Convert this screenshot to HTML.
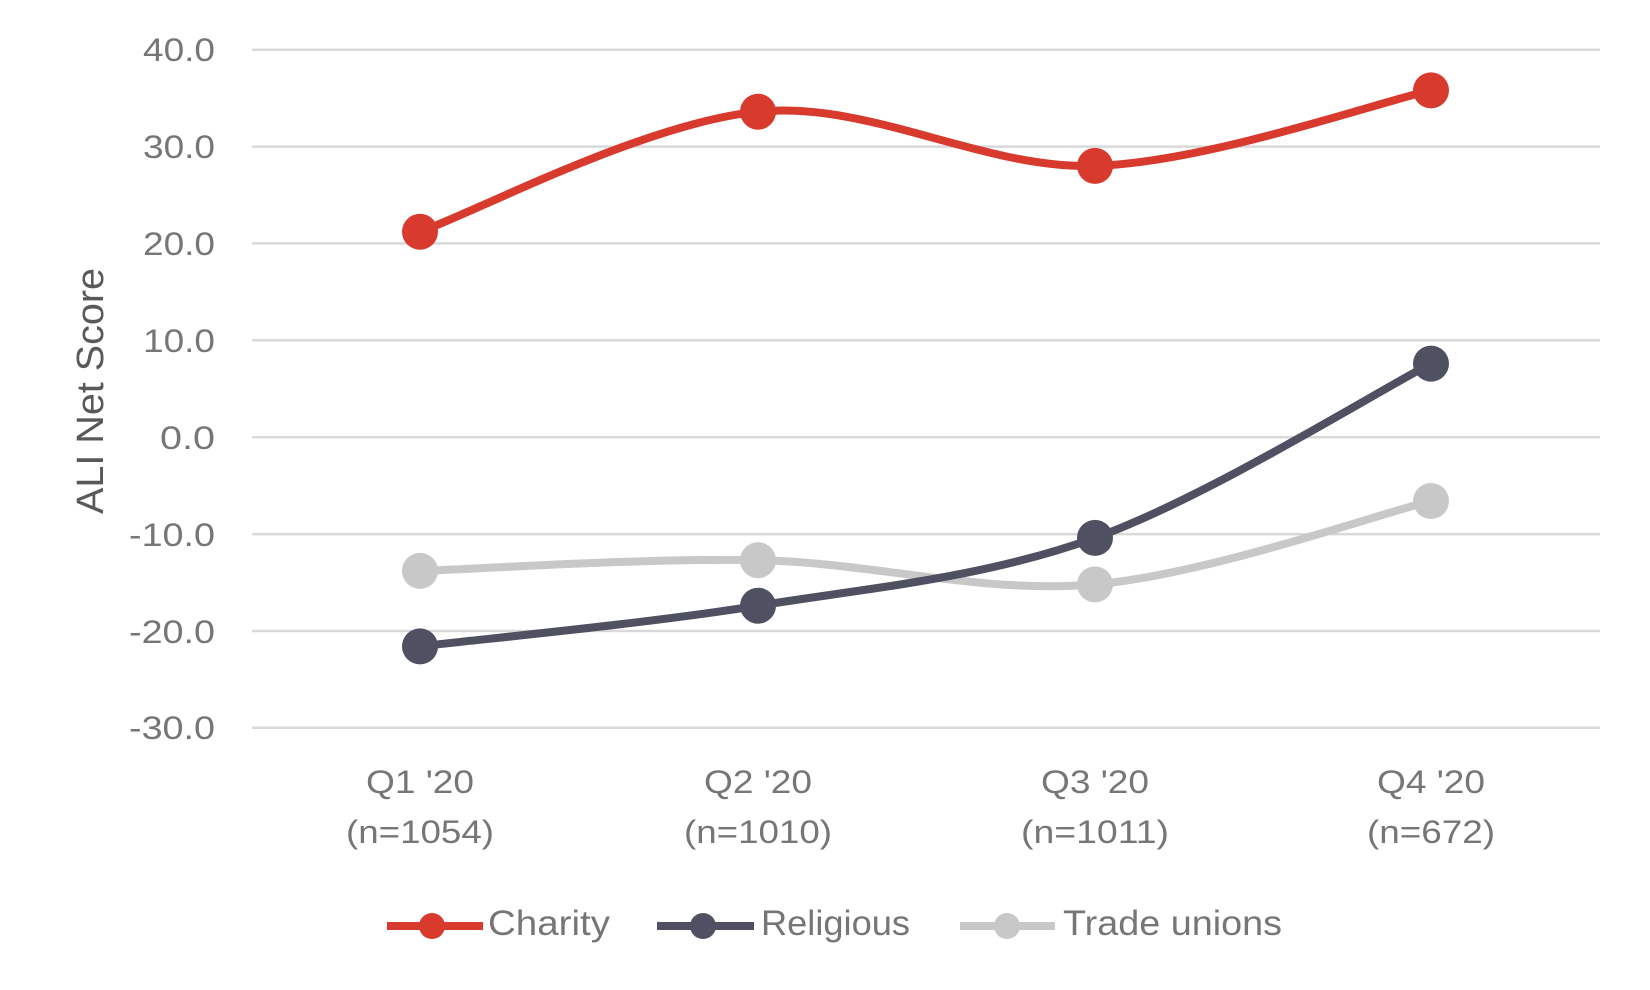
<!DOCTYPE html>
<html><head><meta charset="utf-8"><style>
html,body{margin:0;padding:0;background:#fff;}
svg{display:block;}
text{font-family:"Liberation Sans",sans-serif;fill:#767676;}
</style></head><body>
<svg width="1650" height="990" viewBox="0 0 1650 990" xmlns="http://www.w3.org/2000/svg">
<g stroke="#d9d9d9" stroke-width="2.5">
<line x1="252" y1="49.7" x2="1600" y2="49.7"/>
<line x1="252" y1="146.6" x2="1600" y2="146.6"/>
<line x1="252" y1="243.4" x2="1600" y2="243.4"/>
<line x1="252" y1="340.3" x2="1600" y2="340.3"/>
<line x1="252" y1="437.2" x2="1600" y2="437.2"/>
<line x1="252" y1="534.1" x2="1600" y2="534.1"/>
<line x1="252" y1="631" x2="1600" y2="631"/>
<line x1="252" y1="727.8" x2="1600" y2="727.8"/>
</g>
<g font-size="32" text-anchor="end">
<text x="215" y="61" textLength="72" lengthAdjust="spacingAndGlyphs">40.0</text>
<text x="215" y="158" textLength="72" lengthAdjust="spacingAndGlyphs">30.0</text>
<text x="215" y="255" textLength="72" lengthAdjust="spacingAndGlyphs">20.0</text>
<text x="215" y="352" textLength="72" lengthAdjust="spacingAndGlyphs">10.0</text>
<text x="215" y="449" textLength="55" lengthAdjust="spacingAndGlyphs">0.0</text>
<text x="215" y="546" textLength="86" lengthAdjust="spacingAndGlyphs">-10.0</text>
<text x="215" y="643" textLength="86" lengthAdjust="spacingAndGlyphs">-20.0</text>
<text x="215" y="739" textLength="86" lengthAdjust="spacingAndGlyphs">-30.0</text>
</g>
<text transform="translate(103,391) rotate(-90)" font-size="38" text-anchor="middle" textLength="246" lengthAdjust="spacingAndGlyphs" style="fill:#595959">ALI Net Score</text>
<g font-size="32" text-anchor="middle">
<text x="420" y="793" textLength="108" lengthAdjust="spacingAndGlyphs">Q1 '20</text>
<text x="420" y="843" textLength="148" lengthAdjust="spacingAndGlyphs">(n=1054)</text>
<text x="758" y="793" textLength="108" lengthAdjust="spacingAndGlyphs">Q2 '20</text>
<text x="758" y="843" textLength="148" lengthAdjust="spacingAndGlyphs">(n=1010)</text>
<text x="1095" y="793" textLength="108" lengthAdjust="spacingAndGlyphs">Q3 '20</text>
<text x="1095" y="843" textLength="148" lengthAdjust="spacingAndGlyphs">(n=1011)</text>
<text x="1431" y="793" textLength="108" lengthAdjust="spacingAndGlyphs">Q4 '20</text>
<text x="1431" y="843" textLength="128" lengthAdjust="spacingAndGlyphs">(n=672)</text>
</g>
<g fill="none" stroke-width="8" stroke-linecap="round">
<path stroke="#c8c8c8" d="M420,570.9 C476,569.1 645.5,557.95 758,560.2 C870.5,562.4 982.8,594.3 1095,584.4 C1207,574.5 1375,514.9 1431,501"/>
<path stroke="#4f5062" d="M420,646.4 C476,639.6 645.5,623.8 758,605.7 C870.5,587.6 982.8,578.3 1095,537.9 C1207,497.5 1375,392.7 1431,363.6"/>
<path stroke="#d93a2e" d="M420,231.8 C476,211.8 645.5,122.7 758,111.7 C870.5,100.7 982.8,169.5 1095,165.9 C1207,162.3 1375,103 1431,90.4"/>
</g>
<g fill="#c8c8c8"><circle cx="420" cy="570.9" r="18"/><circle cx="758" cy="560.2" r="18"/><circle cx="1095" cy="584.4" r="18"/><circle cx="1431" cy="501" r="18"/></g>
<g fill="#4f5062"><circle cx="420" cy="646.4" r="18"/><circle cx="758" cy="605.7" r="18"/><circle cx="1095" cy="537.9" r="18"/><circle cx="1431" cy="363.6" r="18"/></g>
<g fill="#d93a2e"><circle cx="420" cy="231.8" r="18"/><circle cx="758" cy="111.7" r="18"/><circle cx="1095" cy="165.9" r="18"/><circle cx="1431" cy="90.4" r="18"/></g>
<g stroke-width="8">
<line x1="387" y1="926" x2="483" y2="926" stroke="#d93a2e"/><circle cx="432" cy="926" r="13" fill="#d93a2e"/>
<line x1="657" y1="926" x2="754" y2="926" stroke="#4f5062"/><circle cx="703" cy="926" r="13" fill="#4f5062"/>
<line x1="960" y1="926" x2="1055" y2="926" stroke="#c8c8c8"/><circle cx="1007" cy="926" r="13" fill="#c8c8c8"/>
</g>
<g font-size="35">
<text x="488" y="935" textLength="122" lengthAdjust="spacingAndGlyphs">Charity</text>
<text x="761" y="935" textLength="149" lengthAdjust="spacingAndGlyphs">Religious</text>
<text x="1063" y="935" textLength="219" lengthAdjust="spacingAndGlyphs">Trade unions</text>
</g>
</svg>
</body></html>
